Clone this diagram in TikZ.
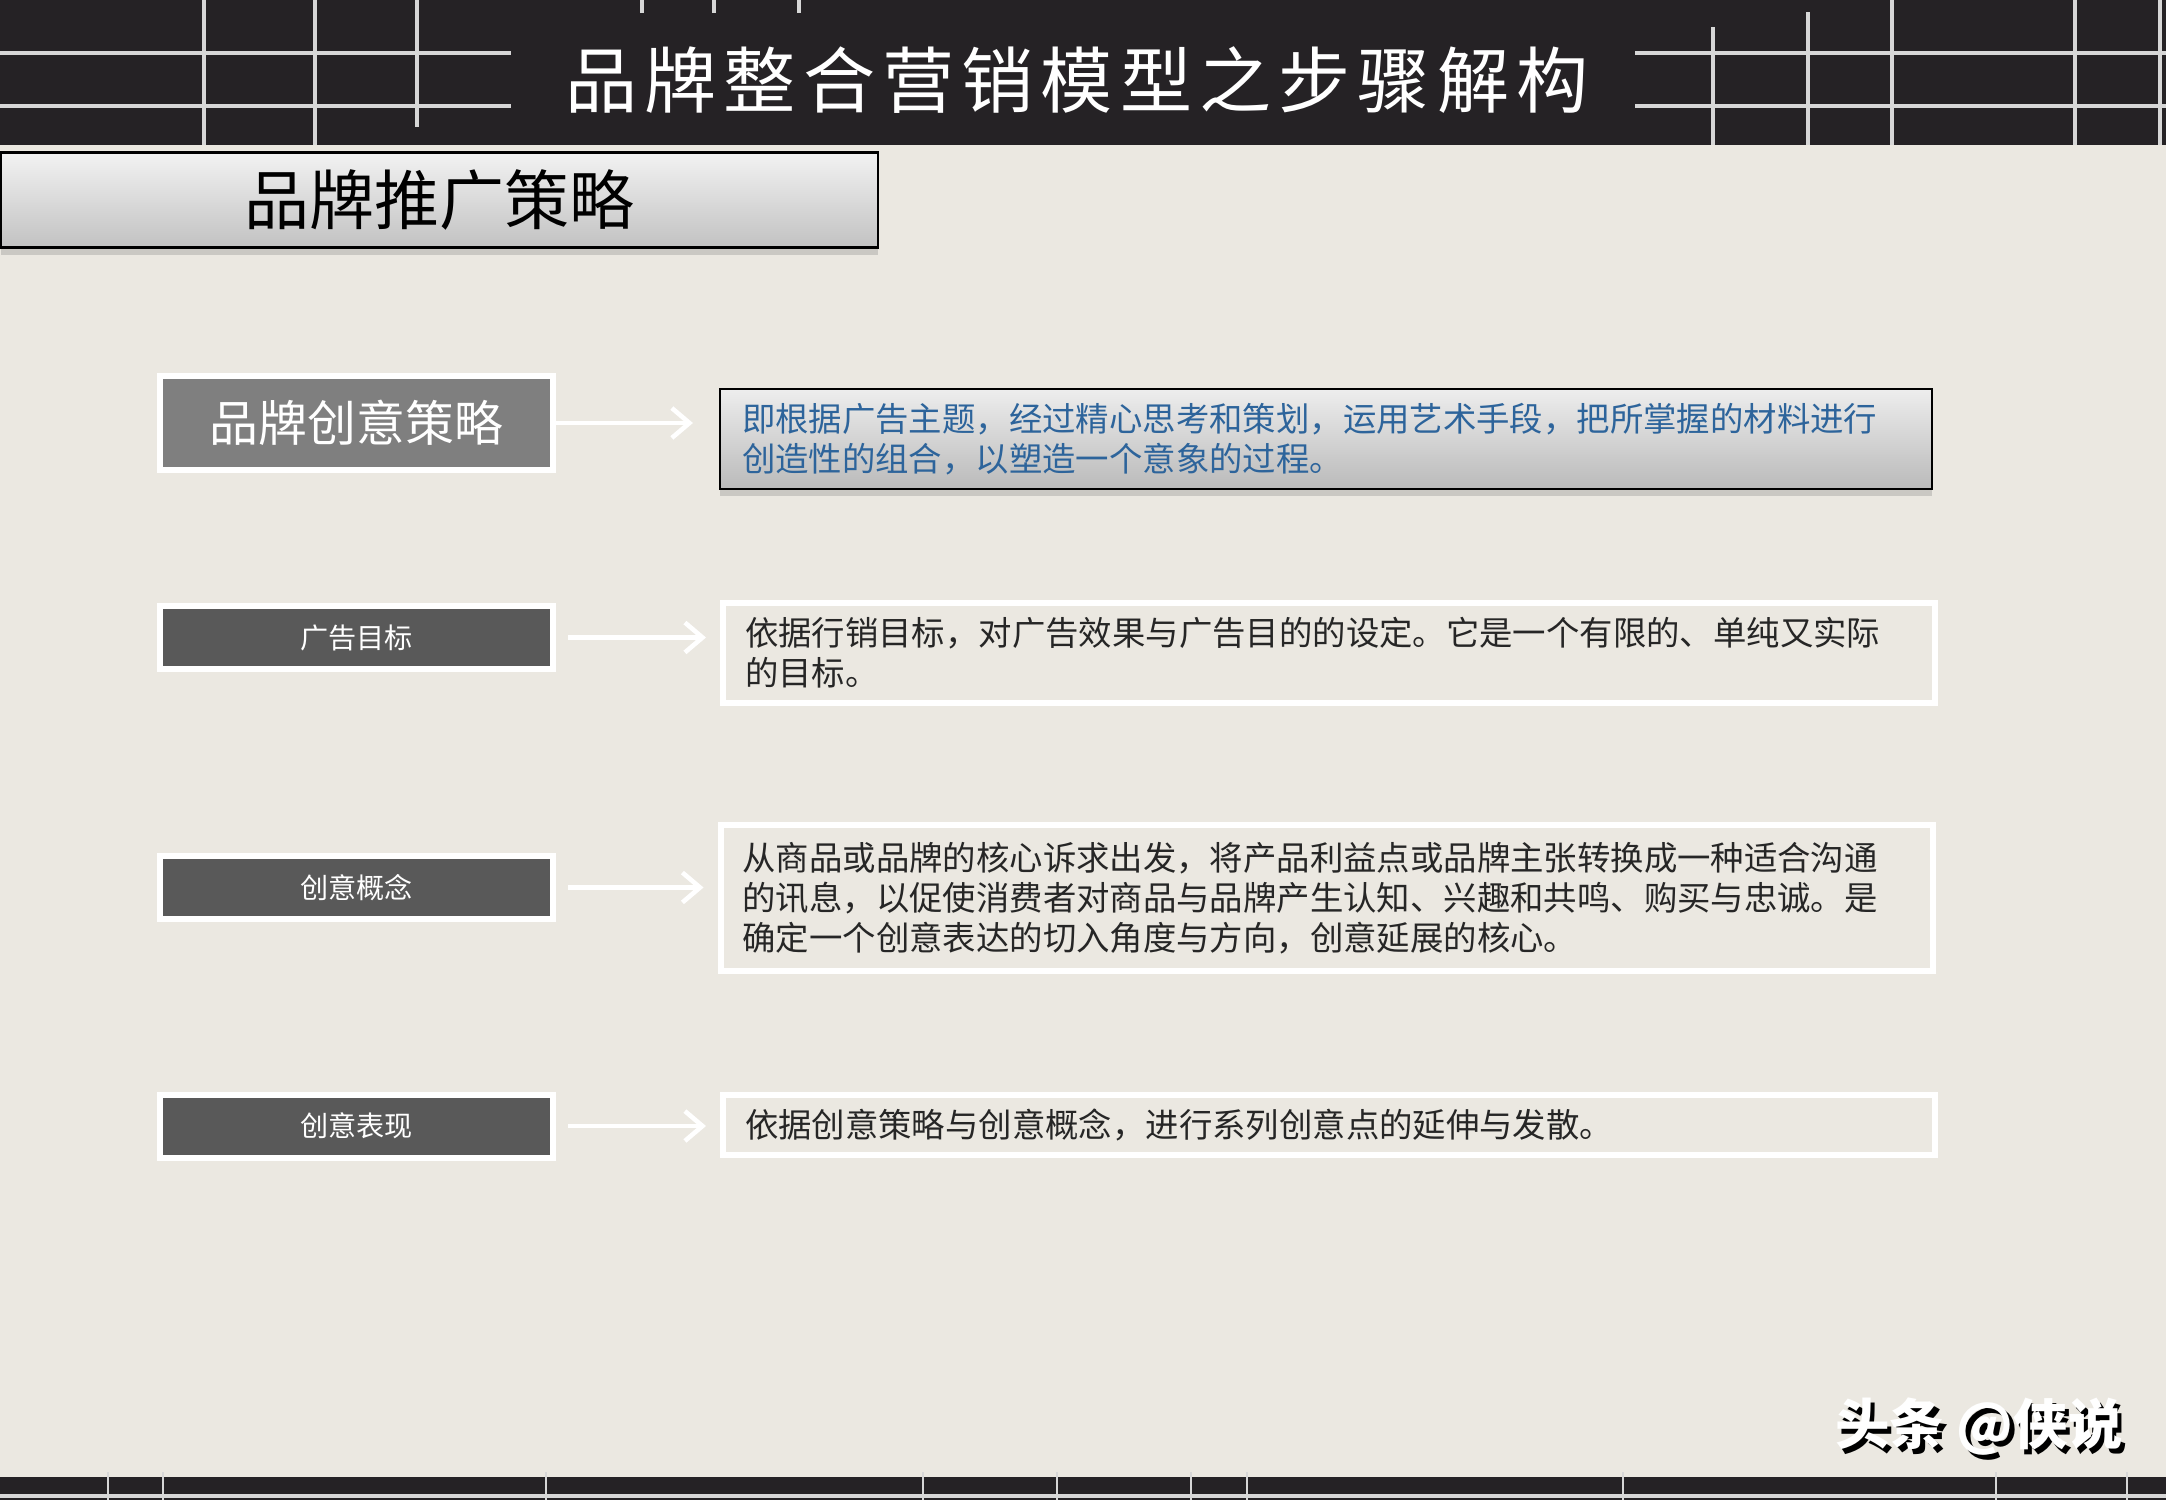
\documentclass[tikz,border=0pt]{standalone}
\usepackage{fontspec}
\newfontfamily\cjk{Noto Sans CJK SC}
\newfontfamily\cjktitel[LetterSpace=10]{Noto Sans CJK SC}
\usetikzlibrary{arrows.meta,shadows}
\definecolor{hintergrund}{RGB}{235,232,225}
\definecolor{dunkel}{RGB}{37,34,37}
\definecolor{linie}{RGB}{215,215,215}
\definecolor{grau}{RGB}{127,127,127}
\definecolor{dunkelgrau}{RGB}{89,89,89}
\definecolor{blautext}{RGB}{45,100,155}
\begin{document}
\begin{tikzpicture}
			\tikzset{kasten/.style={draw=white, line width=1.7pt, minimum width=3.93cm, minimum height=0.63cm, fill=dunkelgrau, text=white, inner sep=0pt, font=\cjk\fontsize{8}{10}\selectfont}}
			\tikzset{textkasten/.style={draw=white, line width=1.7pt, minimum width=12.12cm, text width=11.68cm, align=left, inner xsep=0.22cm, inner ysep=0.04cm, text=black!85, font=\cjk\fontsize{9.5}{11.4}\selectfont}}
			\tikzset{pfeil/.style={draw=white, line width=1.3pt, -{Straight Barb[length=5pt,width=8.5pt]}}}
			\tikzset{gitter/.style={draw=linie, line width=1.1pt}}

			\useasboundingbox (0,0) rectangle (21.66,15);
			\fill[hintergrund] (0,0) rectangle (21.66,15);
			\fill[dunkel] (0,13.55) rectangle (21.66,15);
			\fill[dunkel] (0,0) rectangle (21.66,0.23);

			\draw[gitter] (0,14.47) -- (5.11,14.47);
			\draw[gitter] (0,13.94) -- (5.11,13.94);
			\draw[gitter] (2.04,13.55) -- (2.04,15);
			\draw[gitter] (3.15,13.55) -- (3.15,15);
			\draw[gitter] (4.17,13.73) -- (4.17,15);
			\draw[gitter] (6.42,14.87) -- (6.42,15);
			\draw[gitter] (7.14,14.87) -- (7.14,15);
			\draw[gitter] (7.99,14.87) -- (7.99,15);
			\draw[gitter] (16.35,14.47) -- (21.66,14.47);
			\draw[gitter] (16.35,13.94) -- (21.66,13.94);
			\draw[gitter] (17.13,13.55) -- (17.13,14.73);
			\draw[gitter] (18.08,13.55) -- (18.08,14.88);
			\draw[gitter] (18.92,13.55) -- (18.92,15);
			\draw[gitter] (20.75,13.55) -- (20.75,15);
			\draw[gitter] (21.60,13.55) -- (21.60,15);

			\draw[gitter] (0,0.04) -- (21.66,0.04);
			\draw[gitter, line width=0.6pt] (1.08,0) -- (1.08,0.28);
			\draw[gitter, line width=0.6pt] (1.63,0) -- (1.63,0.28);
			\draw[gitter, line width=0.6pt] (5.46,0) -- (5.46,0.28);
			\draw[gitter, line width=0.6pt] (9.23,0) -- (9.23,0.28);
			\draw[gitter, line width=0.6pt] (10.57,0) -- (10.57,0.28);
			\draw[gitter, line width=0.6pt] (11.91,0) -- (11.91,0.28);
			\draw[gitter, line width=0.6pt] (12.47,0) -- (12.47,0.28);
			\draw[gitter, line width=0.6pt] (16.23,0) -- (16.23,0.28);
			\draw[gitter, line width=0.6pt] (19.96,0) -- (19.96,0.28);
			\draw[gitter, line width=0.6pt] (21.27,0) -- (21.27,0.28);

			\node[text=white, font=\cjktitel\fontsize{20.5}{24}\selectfont] at (10.77,14.20) (kopf) {品牌整合营销模型之步骤解构};
			\node[draw=black, line width=0.6pt, top color=white!95!black, bottom color=white!76!black, minimum width=8.77cm, minimum height=0.95cm, drop shadow={shadow xshift=0pt, shadow yshift=-2pt, opacity=0.3}, font=\cjk\fontsize{18.5}{22}\selectfont] at (4.395,13.0) (titel) {品牌推广策略};

			\node[kasten, fill=grau, minimum height=0.94cm, font=\cjk\fontsize{13.9}{16}\selectfont] at (3.565,10.77) (a) {品牌创意策略};
			\node[kasten] at (3.565,8.625) (b) {广告目标};
			\node[kasten] at (3.565,6.125) (c) {创意概念};
			\node[kasten] at (3.565,3.74) (d) {创意表现};

			\node[textkasten, draw=black, line width=0.6pt, top color=white!93!black, bottom color=white!73!black, minimum width=12.10cm, minimum height=1.0cm, text=blautext, drop shadow={shadow xshift=0pt, shadow yshift=-2pt, opacity=0.3}] at (13.26,10.61) (e) {即根据广告主题，经过精心思考和策划，运用艺术手段，把所掌握的材料进行\\创造性的组合，以塑造一个意象的过程。};
			\node[textkasten, minimum height=1.0cm] at (13.29,8.47) (f) {依据行销目标，对广告效果与广告目的的设定。它是一个有限的、单纯又实际\\的目标。};
			\node[textkasten, minimum height=1.46cm] at (13.265,6.02) (g) {从商品或品牌的核心诉求出发，将产品利益点或品牌主张转换成一种适合沟通\\的讯息，以促使消费者对商品与品牌产生认知、兴趣和共鸣、购买与忠诚。是\\确定一个创意表达的切入角度与方向，创意延展的核心。};
			\node[textkasten, minimum height=0.60cm] at (13.29,3.75) (h) {依据创意策略与创意概念，进行系列创意点的延伸与发散。};

			\draw[pfeil, shorten >=0.26cm] (a.east) -- (a.east -| e.west);
			\draw[pfeil, shorten <=0.12cm, shorten >=0.14cm] (b.east) -- (b.east -| f.west);
			\draw[pfeil, shorten <=0.12cm, shorten >=0.14cm] (c.east) -- (c.east -| g.west);
			\draw[pfeil, shorten <=0.12cm, shorten >=0.14cm] (d.east) -- (d.east -| h.west);

			\node[text=white, font=\cjk\bfseries\fontsize{15.5}{18}\selectfont] at (19.79,0.71) (zeichen) {\makebox[0pt][l]{\raisebox{-1.2pt}{\kern1.2pt\color{black}头条 @侠说}}头条 @侠说};
		\end{tikzpicture}
\end{document}
